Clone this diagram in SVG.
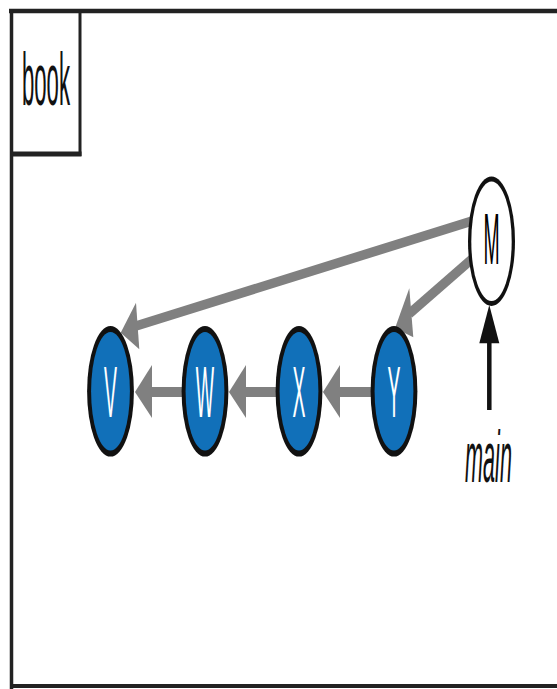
<svg xmlns="http://www.w3.org/2000/svg" width="557" height="689" viewBox="0 0 557 689">
  <style>
    .frame { stroke: #222; fill: none; }
    .edge { stroke: #808080; stroke-width: 10; fill: none; }
    .edge-d { stroke: #808080; stroke-width: 9.5; fill: none; }
    .head { fill: #808080; }
    .ref { stroke: #111; stroke-width: 4.5; fill: none; }
    .refhead { fill: #111; }
    .rim { fill: #111; }
    .commit { fill: #1170b9; }
    .merge { fill: #fff; }
    .lbl { font-family: "Liberation Sans", Arial, sans-serif; font-size: 72px; text-anchor: middle; }
    .lbl-w { fill: #fff; }
    .lbl-k { fill: #000; }
    .tab { font-family: "Liberation Sans", Arial, sans-serif; font-size: 75px; text-anchor: middle; fill: #111; }
    .main { font-family: "Liberation Sans", Arial, sans-serif; font-size: 72px; font-style: italic; text-anchor: middle; fill: #111; }
  </style>

  <g id="frame">
    <line class="frame" x1="9" y1="11" x2="557" y2="11" stroke-width="4.5"/>
    <line class="frame" x1="11.5" y1="9" x2="11.5" y2="689" stroke-width="3.5"/>
    <line class="frame" x1="10" y1="686" x2="557" y2="686" stroke-width="4"/>
    <line class="frame" x1="80" y1="11" x2="80" y2="156" stroke-width="3"/>
    <line class="frame" x1="10" y1="154" x2="81.5" y2="154" stroke-width="5"/>
    <text class="tab" transform="translate(46,105) scale(0.295,1)">book</text>
  </g>

  <g id="connectors">
    <!-- W -> V -->
    <line class="edge" x1="185" y1="392" x2="150" y2="392"/>
    <polygon class="head" points="135,392 152,365 152,418"/>
    <!-- X -> W -->
    <line class="edge" x1="279" y1="392" x2="244" y2="392"/>
    <polygon class="head" points="229,392 246,365 246,418"/>
    <!-- Y -> X -->
    <line class="edge" x1="373" y1="392" x2="338" y2="392"/>
    <polygon class="head" points="323,392 340,365 340,418"/>
    <!-- M -> V -->
    <line class="edge-d" x1="472" y1="221" x2="136" y2="326"/>
    <polygon class="head" points="120.7,332.7 136,302.7 139.3,349.3"/>
    <!-- M -> Y -->
    <line class="edge-d" x1="472" y1="259" x2="409" y2="314"/>
    <polygon class="head" points="395,328.3 409.3,288.3 413.3,337.3"/>
    <!-- main -> M -->
    <line class="ref" x1="489.3" y1="410" x2="489.3" y2="340"/>
    <polygon class="refhead" points="489.3,305 479.3,343.3 499.3,343.3"/>
  </g>

  <g id="node-V">
    <ellipse class="rim" cx="110.5" cy="391.3" rx="23.4" ry="65.3"/>
    <ellipse class="commit" cx="110.5" cy="391.3" rx="19.4" ry="59.3"/>
    <text class="lbl lbl-w" transform="translate(110.5,417) scale(0.27,1)">V</text>
  </g>
  <g id="node-W">
    <ellipse class="rim" cx="205" cy="391.3" rx="23.4" ry="65.3"/>
    <ellipse class="commit" cx="205" cy="391.3" rx="19.4" ry="59.3"/>
    <text class="lbl lbl-w" transform="translate(205,417) scale(0.27,1)">W</text>
  </g>
  <g id="node-X">
    <ellipse class="rim" cx="299" cy="391.3" rx="23.4" ry="65.3"/>
    <ellipse class="commit" cx="299" cy="391.3" rx="19.4" ry="59.3"/>
    <text class="lbl lbl-w" transform="translate(299,417) scale(0.27,1)">X</text>
  </g>
  <g id="node-Y">
    <ellipse class="rim" cx="394" cy="391.3" rx="23.4" ry="65.3"/>
    <ellipse class="commit" cx="394" cy="391.3" rx="19.4" ry="59.3"/>
    <text class="lbl lbl-w" transform="translate(394,417) scale(0.27,1)">Y</text>
  </g>
  <g id="node-M">
    <ellipse class="rim" cx="491.5" cy="241.3" rx="23.5" ry="64.7"/>
    <ellipse class="merge" cx="491.5" cy="241.3" rx="20.2" ry="59.7"/>
    <text class="lbl lbl-k" transform="translate(491.5,264.3) scale(0.27,1)">M</text>
  </g>
  <g id="label-main">
    <text class="main" transform="translate(488.5,481.7) scale(0.3,1)">main</text>
  </g>
</svg>
